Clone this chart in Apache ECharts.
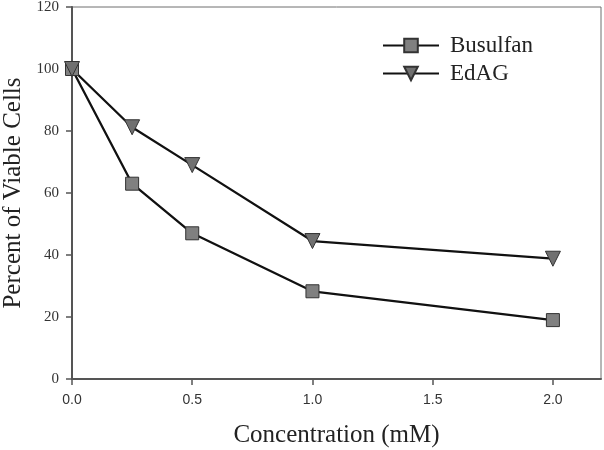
<!DOCTYPE html>
<html><head><meta charset="utf-8">
<script src="https://cdn.jsdelivr.net/npm/echarts@6/dist/echarts.min.js"></script>
<style>html,body{margin:0;padding:0;background:#fff}#c{width:604px;height:450px}</style>
</head><body><div id="c"></div>
<script>
const concentrations = [0, 0.25, 0.5, 1.0, 2.0];
const busulfan = [100, 63, 47, 28.3, 19];
const edag = [100, 81.2, 69, 44.5, 38.8];
const xTicks = [0, 0.5, 1.0, 1.5, 2.0];
const yTicks = [0, 20, 40, 60, 80, 100, 120];
const seriesNames = ['Busulfan', 'EdAG'];

const chart = echarts.init(document.getElementById('c'));
const pair = (xs, ys) => xs.map((x, i) => [x, ys[i]]);
const serif = '"Liberation Serif", "Times New Roman", serif';
const sans = '"Liberation Sans", Arial, sans-serif';
chart.setOption({
  animation: false,
  grid: {left: 72, right: 3, top: 7, bottom: 71, outerBoundsMode: 'none', containLabel: false,
    show: true, borderColor: '#6f6f6f', borderWidth: 1, backgroundColor: 'transparent'},
  legend: {
    left: 377, top: 29, orient: 'vertical', itemGap: 5,
    itemWidth: 56, itemHeight: 17,
    textStyle: {fontFamily: serif, fontSize: 23, color: '#222', padding: [0, 0, 0, 6]},
    data: seriesNames
  },
  xAxis: {
    type: 'value', min: 0, max: 2.2, interval: 0.5,
    name: 'Concentration (mM)', nameLocation: 'middle', nameGap: 44,
    nameTextStyle: {fontFamily: serif, fontSize: 25, color: '#222'},
    axisLine: {lineStyle: {color: '#555', width: 2}},
    axisTick: {inside: false, length: 6, lineStyle: {color: '#555', width: 1.5},
      customValues: xTicks},
    axisLabel: {fontFamily: sans, fontSize: 14, color: '#333', margin: 14,
      customValues: xTicks,
      formatter: v => v.toFixed(1)},
    splitLine: {show: false}
  },
  yAxis: {
    type: 'value', min: 0, max: 120, interval: 20,
    name: 'Percent of Viable Cells', nameLocation: 'middle', nameGap: 45,
    nameTextStyle: {fontFamily: serif, fontSize: 25, color: '#222'},
    axisLine: {show: true, lineStyle: {color: '#555', width: 2}},
    axisTick: {show: true, inside: false, length: 6, lineStyle: {color: '#555', width: 1.5}},
    axisLabel: {fontFamily: serif, fontSize: 15, color: '#333', margin: 13,
      customValues: yTicks},
    splitLine: {show: false}
  },
  series: [
    {name: seriesNames[0], type: 'line', data: pair(concentrations, busulfan),
     symbol: 'rect', symbolSize: 13,
     lineStyle: {color: '#111', width: 2.3},
     itemStyle: {color: '#808080', borderColor: '#333', borderWidth: 1}},
    {name: seriesNames[1], type: 'line', data: pair(concentrations, edag),
     symbol: 'triangle', symbolSize: 15, symbolRotate: 180,
     lineStyle: {color: '#111', width: 2.3},
     itemStyle: {color: '#707070', borderColor: '#333', borderWidth: 1}}
  ]
});
</script></body></html>
